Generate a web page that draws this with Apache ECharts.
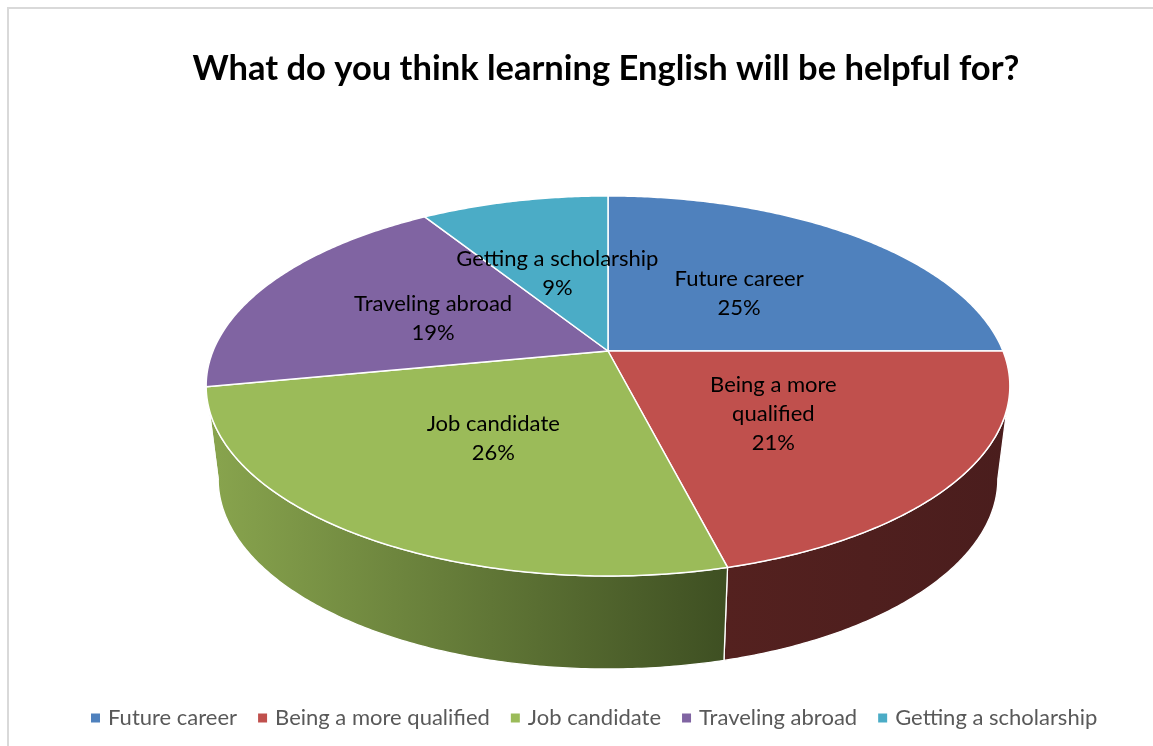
<!DOCTYPE html>
<html>
<head>
<meta charset="utf-8">
<script src="https://cdn.jsdelivr.net/npm/echarts@6/dist/echarts.min.js"></script>
<style>
  html, body { margin: 0; padding: 0; background: #ffffff; }
  #chart { width: 1153px; height: 746px; }
</style>
</head>
<body>
<div id="chart"></div>
<script>
// Survey answers: what learning English will be helpful for (percent of respondents)
const categories = ['Future career', 'Being a more qualified', 'Job candidate', 'Traveling abroad', 'Getting a scholarship'];
const shares = [25, 21, 26, 19, 9];
const labelLines = ['Future career', 'Being a more\nqualified', 'Job candidate', 'Traveling abroad', 'Getting a scholarship'];

const topColors = ['#4F81BD', '#C0504D', '#9BBB59', '#8064A2', '#4BACC6'];
const wallColors = [
  ['#3d6594', '#263f5e'],
  ['#54211f', '#4a1d1d'],
  ['#89a54e', '#3e4f22'],
  ['#634e80', '#3c2f4e'],
  ['#3a879c', '#245461']
];

const FONT = 'Lato, "Open Sans", "Liberation Sans", sans-serif';

// Tilted-disc projection for the pie: theta is measured clockwise from 12 o'clock
const view = { cx: 608, cy: 351, rx: 395, ry: 183.6, persp: 0.184, depth: 93, shrink: 0.97 };

function project(theta, r) {
  const u = r * Math.sin(theta);
  const v = r * Math.cos(theta);
  const w = 1 + view.persp * v;
  return [view.cx + view.rx * u / w, view.cy - view.ry * v / w];
}
function lower(p) {
  return [view.cx + view.shrink * (p[0] - view.cx), p[1] + view.depth];
}
function rim(a0, a1) {
  const pts = [];
  const n = Math.max(2, Math.ceil((a1 - a0) / 0.01));
  for (let i = 0; i <= n; i++) pts.push(project(a0 + (a1 - a0) * i / n, 1));
  return pts;
}

// Front wall is visible between the right-most and left-most points of the rim
const sideRight = Math.acos(-view.persp);
const sideLeft = 2 * Math.PI - sideRight;

function sliceRenderer(idx) {
  return function (params, api) {
    const total = shares.reduce((a, b) => a + b, 0);
    let before = 0;
    for (let i = 0; i < idx; i++) before += shares[i];
    const value = api.value(0);
    const a0 = before / total * 2 * Math.PI;
    const a1 = (before + value) / total * 2 * Math.PI;

    const children = [];

    const lo = Math.max(a0, sideRight);
    const hi = Math.min(a1, sideLeft);
    if (hi > lo) {
      const topEdge = rim(lo, hi);
      const bottomEdge = topEdge.map(lower).reverse();
      children.push({
        type: 'polygon',
        z2: 1,
        shape: { points: topEdge.concat(bottomEdge) },
        style: {
          fill: new echarts.graphic.LinearGradient(0, 0, 1, 0, [
            { offset: 0, color: wallColors[idx][0] },
            { offset: 1, color: wallColors[idx][1] }
          ]),
          stroke: '#ffffff',
          lineWidth: 1.3,
          lineJoin: 'round'
        }
      });
    }

    children.push({
      type: 'polygon',
      z2: 5,
      shape: { points: [[view.cx, view.cy]].concat(rim(a0, a1)) },
      style: { fill: topColors[idx], stroke: '#ffffff', lineWidth: 1.5, lineJoin: 'round' }
    });

    const mid = (a0 + a1) / 2;
    const lp = project(mid, 0.5);
    children.push({
      type: 'text',
      z2: 10,
      x: lp[0],
      y: lp[1] + 3,
      style: {
        text: labelLines[idx] + '\n' + value + '%',
        fontSize: 22,
        lineHeight: 29,
        fontFamily: FONT,
        fill: '#000000',
        align: 'center',
        verticalAlign: 'middle'
      }
    });

    return { type: 'group', children: children };
  };
}

const chart = echarts.init(document.getElementById('chart'), null, { renderer: 'canvas' });

chart.setOption({
  animation: false,
  backgroundColor: '#ffffff',
  title: {
    text: 'What do you think learning English will be helpful for?',
    left: 601,
    textAlign: 'center',
    top: 46,
    textStyle: { fontSize: 34.5, fontWeight: 'bold', color: '#000000', fontFamily: FONT }
  },
  legend: {
    data: categories,
    left: 86,
    top: 702,
    icon: 'rect',
    itemWidth: 9,
    itemHeight: 9,
    itemGap: 21,
    textStyle: { fontSize: 22, color: '#595959', fontFamily: FONT, padding: [0, 0, 0, 3] }
  },
  graphic: [{
    type: 'rect',
    silent: true,
    shape: { x: 8, y: 8, width: 1200, height: 800 },
    style: { fill: 'none', stroke: '#d9d9d9', lineWidth: 2 }
  }],
  series: categories.map((name, i) => ({
    type: 'custom',
    name: name,
    coordinateSystem: 'none',
    itemStyle: { color: topColors[i] },
    data: [[shares[i]]],
    renderItem: sliceRenderer(i)
  }))
});
</script>
</body>
</html>
